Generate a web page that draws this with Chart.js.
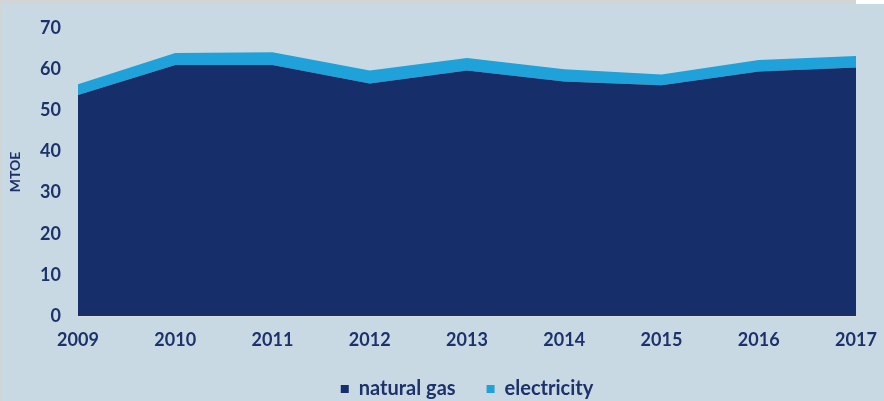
<!DOCTYPE html>
<html>
<head>
<meta charset="utf-8">
<script src="https://cdn.jsdelivr.net/npm/chart.js@4"></script>
<style>
  html, body { margin: 0; padding: 0; background: #fff; }
  #wrap { width: 884px; height: 401px; }
</style>
</head>
<body>
<div id="wrap"><canvas id="myChart" width="884" height="401"></canvas></div>
<script>
const years = ['2009', '2010', '2011', '2012', '2013', '2014', '2015', '2016', '2017'];
const naturalGas = [53.7, 61.0, 61.0, 56.5, 59.7, 57.0, 56.1, 59.4, 60.4];
const electricity = [2.6, 2.9, 3.1, 3.2, 3.0, 3.0, 2.6, 2.8, 2.8];
const yTicks = [0, 10, 20, 30, 40, 50, 60, 70];

const textColor = '#1c326b';
const font = 'Lato, "Open Sans", sans-serif';

// background with the thin grey frame of the original image
const backdrop = {
  id: 'backdrop',
  beforeDraw(chart) {
    const c = chart.ctx;
    c.save();
    c.fillStyle = '#d2d4d6';
    c.fillRect(0, 0, 856, 4);
    c.fillRect(0, 0, 2, 401);
    c.fillStyle = '#c9d9e3';
    c.fillRect(2, 4, 882, 397);
    c.restore();
  }
};

const ctx = document.getElementById('myChart');

new Chart(ctx, {
  type: 'line',
  data: {
    labels: years,
    datasets: [{
      label: 'natural gas',
      data: naturalGas,
      fill: 'origin',
      backgroundColor: '#162e6a',
      borderColor: '#162e6a',
      borderWidth: 0,
      pointRadius: 0,
      tension: 0
    }, {
      label: 'electricity',
      data: electricity,
      fill: '-1',
      backgroundColor: '#1fa1d9',
      borderColor: '#1fa1d9',
      borderWidth: 0,
      pointRadius: 0,
      tension: 0
    }]
  },
  plugins: [backdrop],
  options: {
    responsive: false,
    animation: false,
    layout: { padding: { top: 28, right: 28, left: 0, bottom: 0 } },
    scales: {
      x: {
        offset: false,
        afterFit(scale) { scale.height = 32; },
        grid: { display: false, drawOnChartArea: false, drawTicks: true, tickLength: 6, color: '#dcdcdc' },
        border: { display: true, color: '#dcdcdc', width: 1 },
        ticks: { color: textColor, font: { family: font, size: 18, weight: 'bold' }, padding: 7, maxRotation: 0 }
      },
      y: {
        stacked: true,
        min: 0,
        max: 70,
        afterBuildTicks(scale) {
          scale.ticks = yTicks.map(v => ({ value: v }));
        },
        afterFit(scale) { scale.width = 78; },
        grid: { display: false },
        border: { display: false },
        ticks: { color: textColor, font: { family: font, size: 18, weight: 'bold' }, padding: 9 },
        title: {
          display: true,
          text: 'MTOE',
          color: textColor,
          font: { family: font, size: 14, weight: 'bold' },
          padding: { top: 7, bottom: 0 }
        }
      }
    },
    plugins: {
      legend: {
        position: 'bottom',
        fullSize: false,
        maxHeight: 53,
        labels: {
          color: textColor,
          font: { family: font, size: 20, weight: 'bold', lineHeight: 1 },
          boxWidth: 8,
          boxHeight: 8,
          padding: 31
        }
      },
      tooltip: { enabled: false }
    }
  }
});
</script>
</body>
</html>
